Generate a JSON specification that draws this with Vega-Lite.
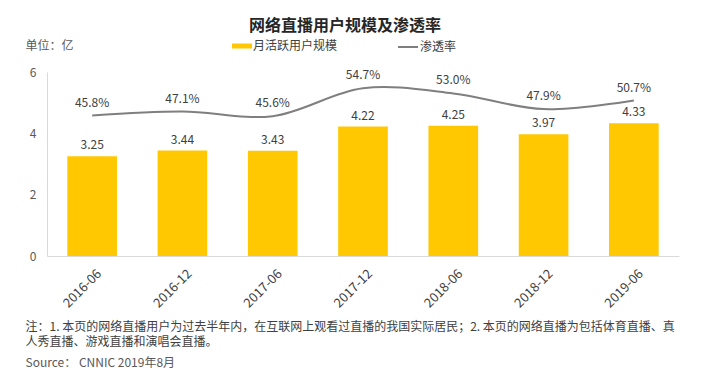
{
  "$schema": "https://vega.github.io/schema/vega-lite/v6.json",
  "width": 632,
  "height": 184,
  "autosize": {"type": "none"},
  "padding": {"left": 47, "top": 72, "right": 28, "bottom": 120},
  "config": {"view": {"stroke": null}, "font": "Noto Sans CJK SC"},
  "title": {
    "text": "网络直播用户规模及渗透率",
    "fontSize": 16,
    "fontWeight": "bold",
    "color": "#262626",
    "anchor": "middle",
    "frame": "group",
    "dx": -18,
    "offset": 2
  },
  "data": {
    "values": [
      {"period": "2016-06", "users": 3.25, "rate": 0.458},
      {"period": "2016-12", "users": 3.44, "rate": 0.471},
      {"period": "2017-06", "users": 3.43, "rate": 0.456},
      {"period": "2017-12", "users": 4.22, "rate": 0.547},
      {"period": "2018-06", "users": 4.25, "rate": 0.530},
      {"period": "2018-12", "users": 3.97, "rate": 0.479},
      {"period": "2019-06", "users": 4.33, "rate": 0.507}
    ]
  },
  "encoding": {
    "x": {
      "field": "period",
      "type": "ordinal",
      "sort": null,
      "scale": {"paddingInner": 0.45, "paddingOuter": 0.225},
      "axis": {
        "labelAngle": -45,
        "labelFontSize": 13,
        "labelColor": "#404040",
        "labelPadding": 11,
        "labelOffset": 3,
        "ticks": false,
        "domainColor": "#D9D9D9",
        "title": ["注：1. 本页的网络直播用户为过去半年内，在互联网上观看过直播的我国实际居民；2. 本页的网络直播为包括体育直播、真", "人秀直播、游戏直播和演唱会直播。"],
        "titleFontSize": 12,
        "titleFontWeight": "normal",
        "titleColor": "#404040",
        "titleAlign": "left",
        "titleAnchor": "start",
        "titleBaseline": "top",
        "titleLineHeight": 15.5,
        "titleX": -22,
        "titleY": 65
      }
    }
  },
  "layer": [
    {
      "encoding": {
        "y": {
          "field": "users",
          "type": "quantitative",
          "scale": {"domain": [0, 6]},
          "axis": {
            "values": [0, 2, 4, 6],
            "grid": false,
            "ticks": false,
            "labelPadding": 11,
            "labelFontSize": 12,
            "labelColor": "#595959",
            "domainColor": "#D9D9D9",
            "title": "单位：亿",
            "titleFontSize": 12,
            "titleFontWeight": "normal",
            "titleColor": "#595959",
            "titleAngle": 0,
            "titleAlign": "left",
            "titleBaseline": "middle",
            "titleX": -22,
            "titleY": -27
          }
        }
      },
      "layer": [
        {
          "mark": {"type": "bar"},
          "encoding": {
            "color": {
              "datum": "月活跃用户规模",
              "type": "nominal",
              "scale": {"range": ["#FFC800"]},
              "legend": {
                "orient": "none",
                "legendX": 185,
                "legendY": -36,
                "title": null,
                "symbolType": "M-1,-0.25H1V0.25H-1Z",
                "symbolSize": 400,
                "symbolStrokeWidth": 0,
                "labelFontSize": 12,
                "labelColor": "#404040",
                "labelOffset": 1
              }
            }
          }
        },
        {
          "mark": {"type": "text", "baseline": "middle", "dy": -11, "fontSize": 12, "color": "#404040"},
          "encoding": {"text": {"field": "users", "type": "quantitative", "format": ".2f"}}
        }
      ]
    },
    {
      "encoding": {
        "y": {
          "field": "rate",
          "type": "quantitative",
          "scale": {"domain": [0, 0.6]},
          "axis": {
            "orient": "right",
            "labels": false,
            "ticks": false,
            "domain": false,
            "grid": false,
            "title": "Source：  CNNIC 2019年8月",
            "titleFontSize": 12,
            "titleFontWeight": "normal",
            "titleColor": "#595959",
            "titleAngle": 0,
            "titleAlign": "left",
            "titleBaseline": "middle",
            "titleX": -654,
            "titleY": 290
          }
        }
      },
      "layer": [
        {
          "mark": {"type": "line", "interpolate": "catmull-rom", "strokeWidth": 2},
          "encoding": {
            "stroke": {
              "datum": "渗透率",
              "type": "nominal",
              "scale": {"range": ["#7F7F7F"]},
              "legend": {
                "orient": "none",
                "legendX": 350,
                "legendY": -36,
                "title": null,
                "symbolType": "stroke",
                "symbolSize": 400,
                "symbolStrokeWidth": 2,
                "labelFontSize": 12,
                "labelColor": "#404040",
                "labelOffset": 1
              }
            }
          }
        },
        {
          "mark": {"type": "text", "baseline": "middle", "dy": -13, "fontSize": 12, "color": "#404040"},
          "encoding": {"text": {"field": "rate", "type": "quantitative", "format": ".1%"}}
        }
      ]
    }
  ],
  "resolve": {"scale": {"y": "independent"}}
}
